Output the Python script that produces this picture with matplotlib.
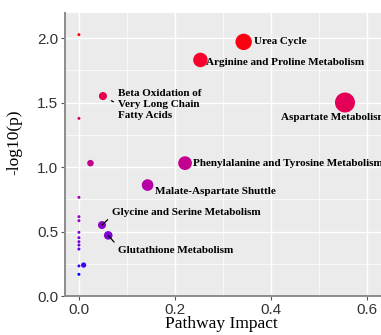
import numpy as np
import matplotlib
matplotlib.use("Agg")
from matplotlib import pyplot as plt
from matplotlib.ticker import MultipleLocator

# pathway impact vs -log10(p)
impact = [0.0, 0.343, 0.253, 0.050, 0.554, 0.0, 0.024, 0.221, 0.143, 0.048, 0.061,
          0.0, 0.0, 0.0, 0.0, 0.0, 0.0, 0.0, 0.0, 0.0, 0.0098, 0.0]
logp = [2.026, 1.97, 1.83, 1.55, 1.50, 1.377, 1.03, 1.03, 0.86, 0.55, 0.47,
        0.765, 0.615, 0.584, 0.494, 0.452, 0.421, 0.395, 0.364, 0.233, 0.24, 0.168]

labels = ["Urea Cycle", "Arginine and Proline Metabolism",
          "Beta Oxidation of\nVery Long Chain\nFatty Acids", "Aspartate Metabolism",
          "Phenylalanine and Tyrosine Metabolism", "Malate-Aspartate Shuttle",
          "Glycine and Serine Metabolism", "Glutathione Metabolism"]
label_idx = [1, 2, 3, 4, 7, 8, 9, 10]

# label placement: offset in pixels, alignment, leader line anchor (None = no line)
label_style = [
    ((10, 0), "left", "center", None),
    ((6, -3), "left", "center", None),
    ((15, 7), "left", "top", (0, 0.5)),
    ((-64, -15), "left", "center", None),
    ((8, 0), "left", "center", None),
    ((7, -6), "left", "center", None),
    ((10, 13), "left", "center", (0, 0.1)),
    ((10, -15), "left", "center", (0, 0.9)),
]


def srgb_to_lab(c):
    c = np.asarray(c, float)
    lin = np.where(c <= 0.04045, c / 12.92, ((c + 0.055) / 1.055) ** 2.4)
    m = np.array([[0.4124, 0.3576, 0.1805], [0.2126, 0.7152, 0.0722], [0.0193, 0.1192, 0.9505]])
    xyz = m @ lin / np.array([0.95047, 1.0, 1.08883])
    f = np.where(xyz > 0.008856, np.cbrt(xyz), 7.787 * xyz + 16 / 116)
    return np.array([116 * f[1] - 16, 500 * (f[0] - f[1]), 200 * (f[1] - f[2])])


def lab_to_srgb(lab):
    fy = (lab[0] + 16) / 116
    fx = fy + lab[1] / 500
    fz = fy - lab[2] / 200
    f = np.array([fx, fy, fz])
    xyz = np.where(f ** 3 > 0.008856, f ** 3, (f - 16 / 116) / 7.787) * np.array([0.95047, 1.0, 1.08883])
    m = np.array([[3.2406, -1.5372, -0.4986], [-0.9689, 1.8758, 0.0415], [0.0557, -0.2040, 1.0570]])
    lin = np.clip(m @ xyz, 0, 1)
    c = np.where(lin <= 0.0031308, 12.92 * lin, 1.055 * lin ** (1 / 2.4) - 0.055)
    return np.clip(c, 0, 1)


# colour gradient blue -> red interpolated in Lab, like ggplot
low, high = srgb_to_lab([0, 0, 1]), srgb_to_lab([1, 0, 0])
lp = np.array(logp)
frac = (lp - lp.min()) / (lp.max() - lp.min())
colors = [lab_to_srgb(low + t * (high - low)) for t in frac]

imp = np.array(impact)
diam_px = 3 + 17 * np.sqrt(imp / imp.max())
sizes = (diam_px * 0.72) ** 2

fig = plt.figure(figsize=(3.81, 3.35), dpi=100)
ax = fig.add_axes([65 / 381, 39 / 335, 316 / 381, 283 / 335])
ax.set_facecolor("#EBEBEB")

order = np.argsort(-sizes)
ax.scatter(imp[order], lp[order], s=sizes[order], c=[colors[i] for i in order],
           linewidths=0, zorder=3)

ax.set_xlim(-0.029, 0.629)
ax.set_ylim(0, 2.194)
ax.xaxis.set_minor_locator(MultipleLocator(0.1))
ax.yaxis.set_minor_locator(MultipleLocator(0.25))
ax.set_xticks([0.0, 0.2, 0.4, 0.6])
ax.set_xticklabels(["0.0", "0.2", "0.4", "0.6"])
ax.set_yticks([0.0, 0.5, 1.0, 1.5, 2.0])
ax.set_yticklabels(["0.0", "0.5", "1.0", "1.5", "2.0"])
ax.grid(which="major", color="white", lw=1.0, zorder=0)
ax.grid(which="minor", color="white", lw=0.5, zorder=0)
ax.set_axisbelow(True)
for side in ["top", "right"]:
    ax.spines[side].set_visible(False)
for side in ["left", "bottom"]:
    ax.spines[side].set_color("#8c8c8c")
    ax.spines[side].set_linewidth(1.4)
ax.tick_params(which="major", length=3, width=0.8, color="#555555", pad=2,
               labelsize=11, labelcolor="#333333")
ax.tick_params(which="minor", length=0)
for t in ax.get_xticklabels() + ax.get_yticklabels():
    t.set_fontfamily("Liberation Sans")

ax.set_xlabel("Pathway Impact", family="Liberation Serif", fontsize=12.5)
ax.set_ylabel("-log10(p)", family="Liberation Serif", fontsize=12.5)
ax.xaxis.set_label_coords((221 - 65) / 316, -20 / 283)
ax.yaxis.set_label_coords(-43 / 316, (296 - 142) / 283)

for k, i in enumerate(label_idx):
    (dx, dy), ha, va, rel = label_style[k]
    arrow = None
    if rel is not None:
        arrow = dict(arrowstyle="-", color="black", lw=0.9, shrinkA=1.5,
                     shrinkB=4 + diam_px[i] * 0.36, relpos=rel)
    ax.annotate(labels[k], (imp[i], lp[i]), xytext=(dx * 0.72, dy * 0.72),
                textcoords="offset points", ha=ha, va=va, family="Liberation Serif",
                fontweight="bold", fontsize=8, linespacing=1.25, zorder=4,
                arrowprops=arrow, annotation_clip=False)

fig.savefig("out.png", dpi=100)
